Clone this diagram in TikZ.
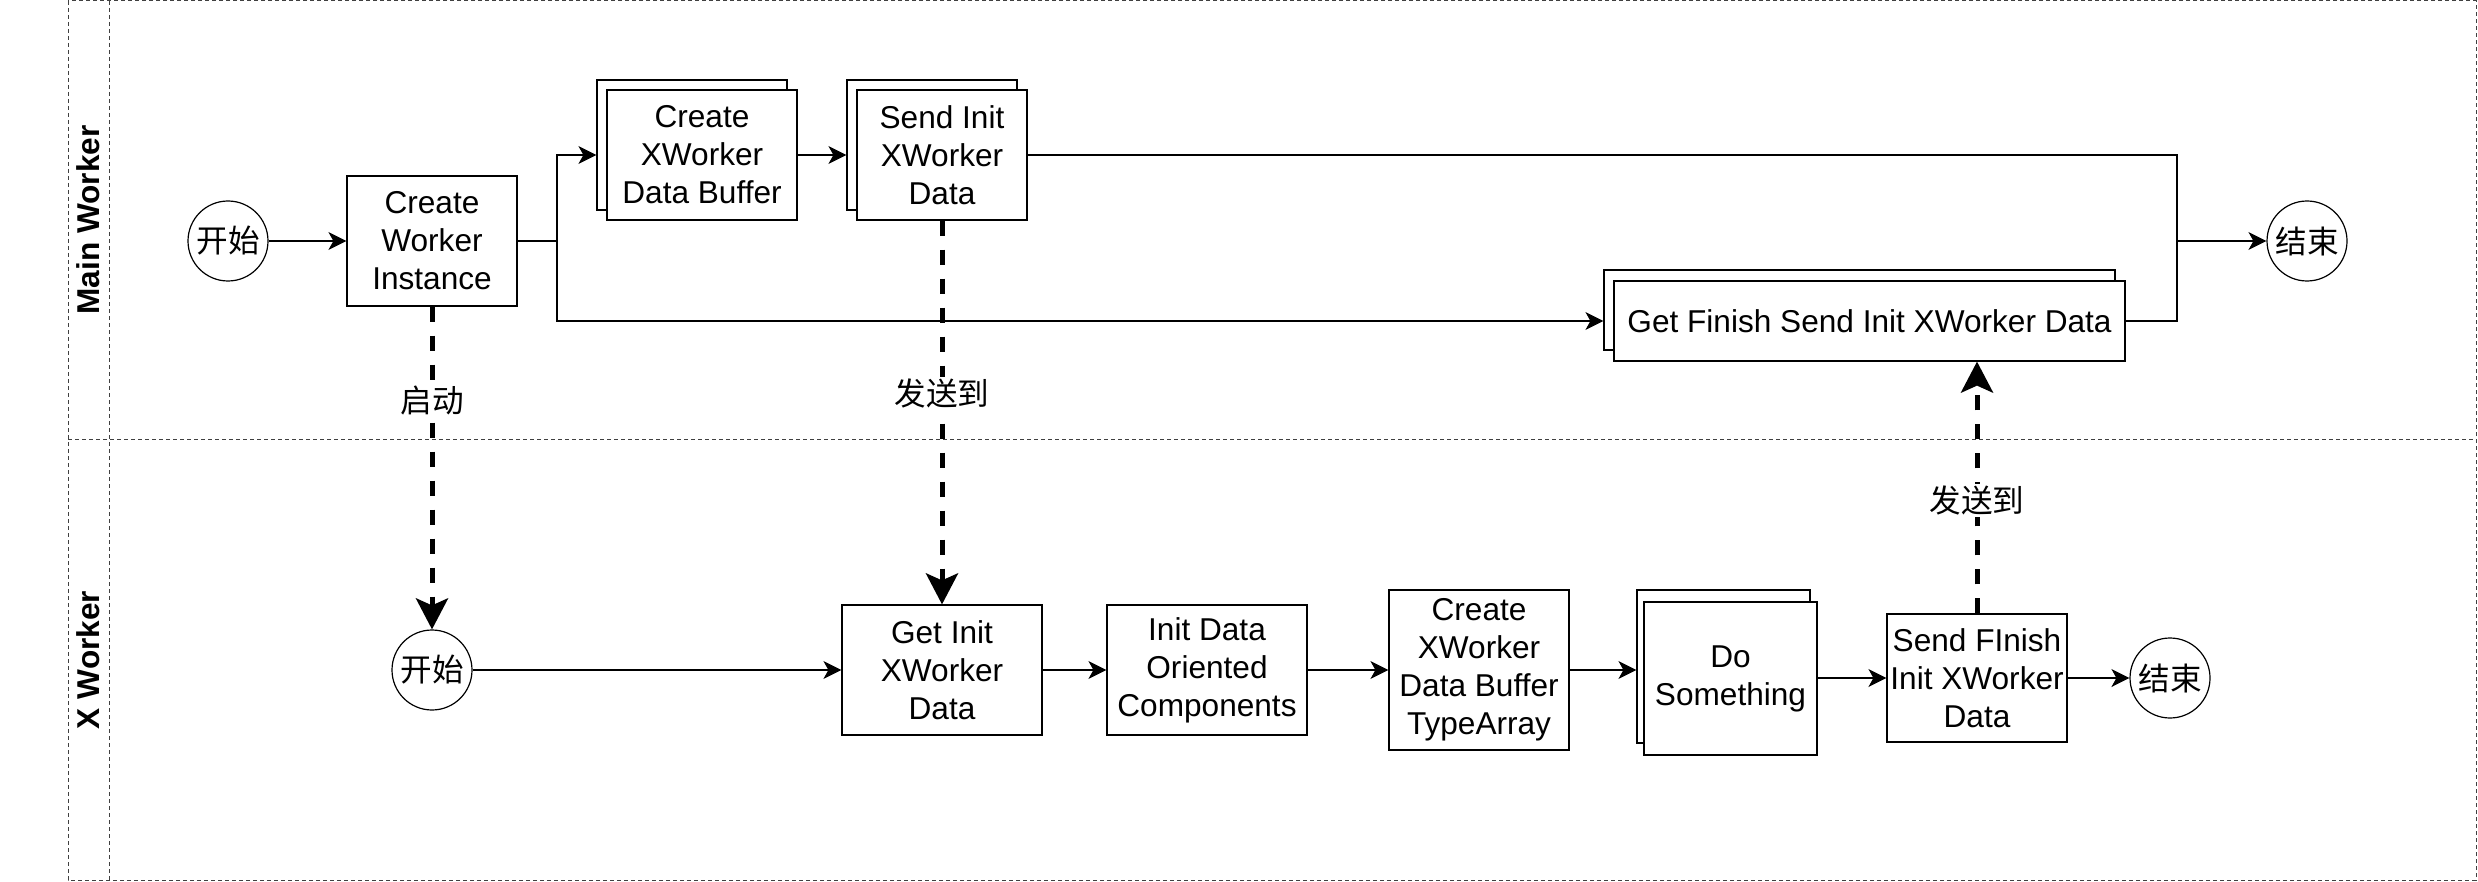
\documentclass[tikz,border=0pt]{standalone}
\usepackage{fontspec}
\setmainfont{Liberation Sans}
\newfontfamily\cjk{Noto Sans CJK SC}
\usetikzlibrary{arrows.meta,calc}
\newcommand{\dfont}{\fontsize{15.8pt}{19pt}\selectfont}
\tikzset{
  box/.style={draw, line width=0.6pt, fill=white, align=center, inner sep=0pt, font=\dfont},
  circ/.style={draw, circle, line width=0.6pt, fill=white, minimum size=40pt, inner sep=0pt, font=\dfont\cjk},
  ln/.style={line width=0.6pt},
  arr/.style={line width=0.6pt, -{Stealth[length=9pt,width=9pt,inset=2.5pt]}},
  darr/.style={line width=2.5pt, dash pattern=on 7.5pt off 7pt, -{Stealth[length=15.5pt,width=16pt,inset=3.5pt]}},
  lbl/.style={fill=white, inner sep=1pt, font=\dfont\cjk},
  frame/.style={line width=0.5pt, draw=black!75, dash pattern=on 2pt off 1.5pt},
  lane/.style={rotate=90, font=\fontsize{15.8pt}{19pt}\selectfont\bfseries}
}
\begin{document}
\begin{tikzpicture}[x=0.5pt, y=-0.5pt]
\useasboundingbox (0,0) rectangle (2478,882);
% frame
\draw[frame] (68,1) rectangle (2476,880);
\draw[frame] (109,1) -- (109,880);
\draw[frame] (68,439) -- (2476,439);
\node[lane] (l1) at (88,220) {Main Worker};
\node[lane] (l2) at (88,660) {X Worker};
% main lane
\node[circ] (s1) at (228,241) {开始};
\node[box, minimum width=85pt, minimum height=65pt] (cwi) at (432,241) {Create\\Worker\\Instance};
\node[box, minimum width=95pt, minimum height=65pt] (cxdbb) at (692,145) {};
\node[box, minimum width=95pt, minimum height=65pt] (cxdb) at (702,155) {Create\\XWorker\\Data Buffer};
\node[box, minimum width=85pt, minimum height=65pt] (sidb) at (932,145) {};
\node[box, minimum width=85pt, minimum height=65pt] (sid) at (942,155) {Send Init\\XWorker\\Data};
\node[box, minimum width=255.5pt, minimum height=40pt] (gfb) at (1859.5,310) {};
\node[box, minimum width=255.5pt, minimum height=40pt] (gf) at (1869.5,321) {Get Finish Send Init XWorker Data};
\node[circ] (e1) at (2307,241) {结束};
% x lane
\node[circ] (s2) at (432,670) {开始};
\node[box, minimum width=100pt, minimum height=65pt] (gi) at (942,670) {Get Init\\XWorker\\Data};
\node[box, minimum width=100pt, minimum height=65pt] (idoc) at (1207,670) {Init Data\\Oriented\\Components};
\node[box, minimum width=90pt, minimum height=80pt] (cxdbt) at (1479,670) {Create\\XWorker\\Data Buffer\\TypeArray};
\node[box, minimum width=86.5pt, minimum height=76.5pt] (dsb) at (1723.5,666.5) {};
\node[box, minimum width=86.5pt, minimum height=76.5pt] (ds) at (1730.5,678.5) {Do\\Something};
\node[box, minimum width=90pt, minimum height=64pt] (sf) at (1977,678) {Send FInish\\Init XWorker\\Data};
\node[circ] (e2) at (2170,678) {结束};
% main connectors
\coordinate (j1) at (557,241);
\coordinate (j2) at (2177,241);
\draw[arr] (s1) -- (cwi);
\draw[ln] (cwi.east) -- (j1);
\draw[arr] (j1) |- (cxdbb.west |- cxdb.center);
\draw[arr] (j1) |- (gfb.west |- gf.center);
\draw[arr] (cxdb.east) -- (sidb.west |- sid.center);
\draw[arr] (sid.east) -| (j2) -- (e1.west);
\draw[ln] (gf.east) -| (j2);
% x connectors
\draw[arr] (s2) -- (gi);
\draw[arr] (gi) -- (idoc);
\draw[arr] (idoc) -- (cxdbt);
\draw[arr] (cxdbt.east) -- (dsb.west |- cxdbt.east);
\draw[arr] (ds.east |- sf.west) -- (sf.west);
\draw[arr] (sf) -- (e2);
% cross-lane
\draw[darr] (cwi.south) -- node[lbl, pos=0.29] {启动} (s2.north);
\draw[darr] (sid.south) -- node[lbl, pos=0.45] {发送到} (gi.north);
\draw[darr] (sf.north) -- node[lbl, pos=0.447] {发送到} (sf.north |- gf.south);
\end{tikzpicture}
\end{document}
